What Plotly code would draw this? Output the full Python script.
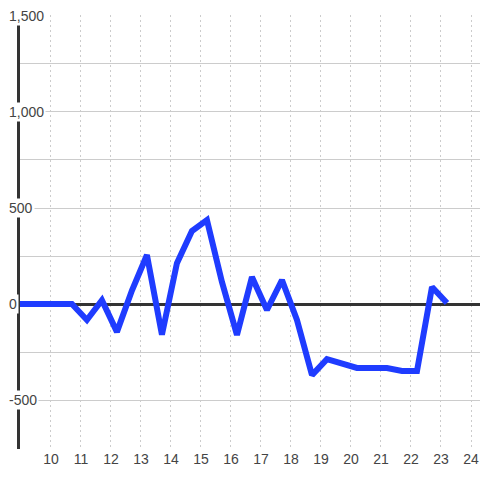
import plotly.graph_objects as go

# time axis (day-of-month, half-day steps) and series values
x_vals = [8.7, 9.2, 9.7, 10.2, 10.7, 11.2, 11.7, 12.2, 12.7, 13.2,
          13.7, 14.2, 14.7, 15.2, 15.7, 16.2, 16.7, 17.2, 17.7, 18.2,
          18.7, 19.2, 19.7, 20.2, 20.7, 21.2, 21.7, 22.2, 22.7, 23.2]
y_vals = [0, 0, 0, 0, 0, -83, 20, -145, 70, 255,
          -160, 213, 380, 437, 115, -161, 141, -31, 125, -83,
          -370, -287, -307, -333, -333, -333, -349, -349, 89, 5]

x_ticks = list(range(10, 25))
y_ticks = [-500, 0, 500, 1000, 1500]
y_tick_text = ["-500", "0", "500", "1,000", "1,500"]

LINE_COLOR = "#1f3cff"
GRID_COLOR = "#cccccc"
AXIS_COLOR = "#333333"
TEXT_COLOR = "#444444"

fig = go.Figure()
fig.add_trace(go.Scatter(
    x=x_vals,
    y=y_vals,
    mode="lines",
    line=dict(color=LINE_COLOR, width=6),
    hoverinfo="skip",
))

# y labels sit over the axis line with a white box behind them
for val, txt in zip(y_ticks, y_tick_text):
    fig.add_annotation(
        x=-13 / 460, xref="paper", xanchor="left",
        y=val, yref="y", yanchor="middle",
        text=txt, showarrow=False,
        bgcolor="white", borderpad=1,
        font=dict(size=14, color=TEXT_COLOR),
    )

fig.update_layout(
    width=480,
    height=480,
    margin=dict(l=20, r=0, t=15, b=31),
    paper_bgcolor="white",
    plot_bgcolor="white",
    showlegend=False,
    font=dict(family="Liberation Sans, Arial, sans-serif", size=14, color=TEXT_COLOR),
)

fig.update_xaxes(
    range=[8.97, 24.3],
    tickvals=x_ticks,
    showgrid=True,
    gridcolor=GRID_COLOR,
    griddash="2px,3px",
    gridwidth=1,
    zeroline=False,
    showline=False,
    ticks="",
    automargin=False,
)

fig.update_yaxes(
    range=[-755, 1505],
    tickvals=y_ticks,
    showticklabels=False,
    showgrid=True,
    gridcolor=GRID_COLOR,
    gridwidth=1,
    minor=dict(dtick=250, tick0=0, showgrid=True, gridcolor=GRID_COLOR, gridwidth=1),
    zeroline=True,
    zerolinecolor=AXIS_COLOR,
    zerolinewidth=3,
    showline=True,
    linecolor=AXIS_COLOR,
    linewidth=3,
    ticks="",
    layer="below traces",
    automargin=False,
)

# the page's default body margin would shift the chart by 8px
fig.write_html(
    "out.html",
    config={"displayModeBar": False},
    post_script="document.body.style.margin='0';",
)
